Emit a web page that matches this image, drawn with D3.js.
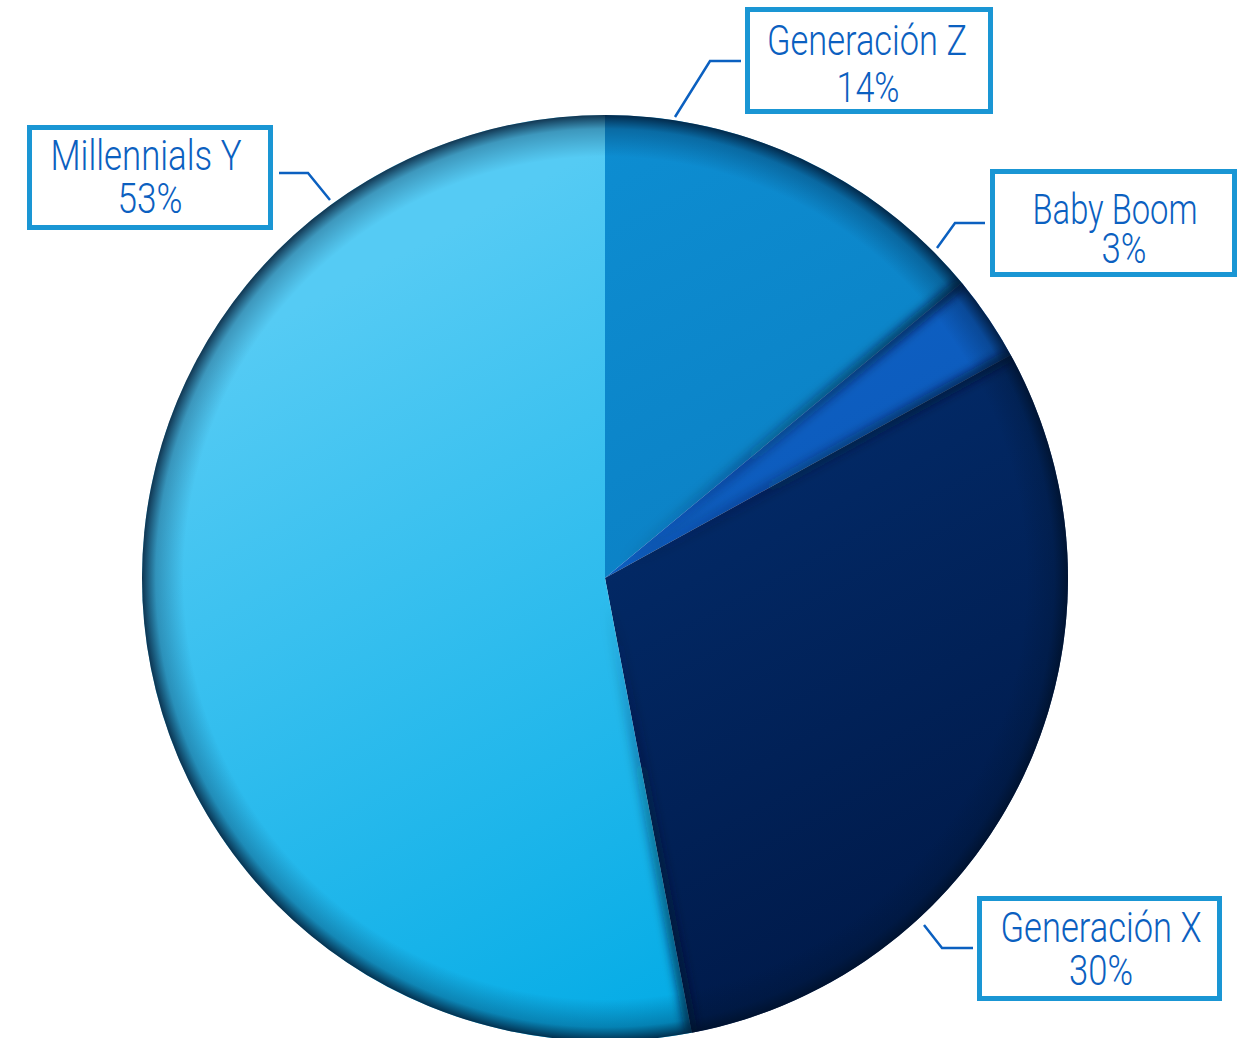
<!DOCTYPE html>
<html>
<head>
<meta charset="utf-8">
<script src="https://cdn.jsdelivr.net/npm/d3@7"></script>
<style>
  body { margin: 0; background: #fff; }
  text { font-family: Roboto, "Open Sans", "DejaVu Sans", sans-serif; font-weight: 300; }
</style>
</head>
<body>
<div id="Canvas"></div>
<script>
// datos
const categories = ["Generación Z", "Baby Boom", "Generación X", "Millennials Y"]
const values = [14, 3, 30, 53]
const pctLabels = values.map(v => v + "%")
// colores de cada porción (claro -> oscuro)
const colorsLight = ["#0d8dd1", "#0f66cb", "#04347a", "#55cbf4"]
const colorsDark = ["#0a76ba", "#0a50ae", "#001a4a", "#00aae5"]

const W = 1249, H = 1038
const cx = 605, cy = 578, R = 463

let svg = d3.select("#Canvas")
    .append("svg")
    .attr("width", W)
    .attr("height", H)

let defs = svg.append("defs")

// pie
let pie = d3.pie().sort(null).value(d => d)
let arcs = pie(values)
let arc = d3.arc().innerRadius(0).outerRadius(R)

// gradiente por porción
arcs.forEach((d, i) => {
    let g = defs.append("linearGradient")
        .attr("id", "grad" + i)
        .attr("gradientUnits", "userSpaceOnUse")
        .attr("x1", -250).attr("y1", -300)
        .attr("x2", 150).attr("y2", 450)
    g.append("stop").attr("offset", 0).attr("stop-color", colorsLight[i])
    g.append("stop").attr("offset", 1).attr("stop-color", colorsDark[i])
})

// borde oscuro
let rim = defs.append("radialGradient")
    .attr("id", "rim")
    .attr("gradientUnits", "userSpaceOnUse")
    .attr("cx", 0).attr("cy", 0).attr("r", R)
rim.append("stop").attr("offset", 0.91).attr("stop-color", "#001430").attr("stop-opacity", 0)
rim.append("stop").attr("offset", 0.97).attr("stop-color", "#001430").attr("stop-opacity", 0.28)
rim.append("stop").attr("offset", 1).attr("stop-color", "#001028").attr("stop-opacity", 0.8)

defs.append("clipPath").attr("id", "pieClip")
    .append("circle").attr("r", R)

defs.append("filter").attr("id", "blur")
    .attr("x", "-50%").attr("y", "-50%").attr("width", "200%").attr("height", "200%")
    .append("feGaussianBlur").attr("stdDeviation", 5)

let g = svg.append("g").attr("transform", `translate(${cx},${cy})`)

g.selectAll("path.slice")
    .data(arcs)
    .enter()
    .append("path")
    .attr("class", "slice")
    .attr("d", arc)
    .attr("fill", (d, i) => "url(#grad" + i + ")")

// sombras en las uniones
let seams = g.append("g").attr("clip-path", "url(#pieClip)")
arcs.forEach((d, i) => {
    let a = d.startAngle
    let x2 = R * Math.sin(a), y2 = -R * Math.cos(a)
    let lg = defs.append("linearGradient")
        .attr("id", "seam" + i)
        .attr("gradientUnits", "userSpaceOnUse")
        .attr("x1", 0).attr("y1", 0).attr("x2", x2).attr("y2", y2)
    lg.append("stop").attr("offset", 0.05).attr("stop-color", "#001430").attr("stop-opacity", 0)
    lg.append("stop").attr("offset", 1).attr("stop-color", "#001430").attr("stop-opacity", 0.75)
    seams.append("line")
        .attr("x1", 0).attr("y1", 0)
        .attr("x2", x2).attr("y2", y2)
        .attr("stroke", "url(#seam" + i + ")")
        .attr("stroke-width", 12)
        .attr("filter", "url(#blur)")
})

g.append("circle").attr("r", R).attr("fill", "url(#rim)")

// etiquetas (posición de las cajas)
const boxes = [
    {x: 747.5, y: 9.5, w: 243, h: 102, t1: [867, 55, 200], t2: [868, 102, 63],
        leader: [[741, 61], [710, 61], [675, 117]]},
    {x: 992.5, y: 171.5, w: 242, h: 103, t1: [1115, 224, 165], t2: [1124, 263, 45],
        leader: [[985, 223], [955, 223], [937, 248]]},
    {x: 979.5, y: 898.5, w: 240, h: 100, t1: [1101, 942, 201], t2: [1101, 985, 64],
        leader: [[973, 948], [942, 948], [924, 925]]},
    {x: 29.5, y: 127.5, w: 241, h: 100, t1: [146, 170, 191], t2: [150, 213, 65],
        leader: [[279, 173], [308, 173], [330, 200]]}
]

let labels = svg.append("g")
    .selectAll("g")
    .data(arcs)
    .enter()
    .append("g")

labels.append("rect")
    .attr("x", (d, i) => boxes[i].x)
    .attr("y", (d, i) => boxes[i].y)
    .attr("width", (d, i) => boxes[i].w)
    .attr("height", (d, i) => boxes[i].h)
    .attr("fill", "#fff")
    .attr("stroke", "#1a96d4")
    .attr("stroke-width", 5)

labels.append("path")
    .attr("d", (d, i) => d3.line()(boxes[i].leader))
    .attr("fill", "none")
    .attr("stroke", "#0b60c0")
    .attr("stroke-width", 2.5)

labels.append("text")
    .attr("x", (d, i) => boxes[i].t1[0])
    .attr("y", (d, i) => boxes[i].t1[1])
    .attr("text-anchor", "middle")
    .attr("textLength", (d, i) => boxes[i].t1[2])
    .attr("lengthAdjust", "spacingAndGlyphs")
    .attr("font-size", 43)
    .attr("fill", "#0b60c0")
    .text((d, i) => categories[i])

labels.append("text")
    .attr("x", (d, i) => boxes[i].t2[0])
    .attr("y", (d, i) => boxes[i].t2[1])
    .attr("text-anchor", "middle")
    .attr("textLength", (d, i) => boxes[i].t2[2])
    .attr("lengthAdjust", "spacingAndGlyphs")
    .attr("font-size", 43)
    .attr("fill", "#0b60c0")
    .text((d, i) => pctLabels[i])
</script>
</body>
</html>
